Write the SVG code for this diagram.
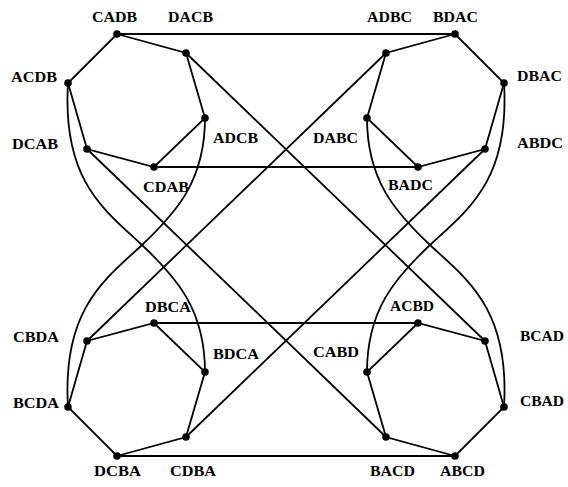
<svg xmlns="http://www.w3.org/2000/svg" width="568" height="487" viewBox="0 0 568 487">
<style>
.e{stroke:#000;stroke-width:1.8;fill:none;stroke-linecap:round}
.n circle{fill:#000}
.n text{font-family:"Liberation Serif","Times New Roman",serif;font-size:14.5px;font-weight:bold;fill:#000}
</style>
<rect width="568" height="487" fill="#fff"/>
<g id="connectors" class="e">
<path d="M117,34 L186,53 L205,118 L154,167 L87,149 L68,83 Z"/>
<path d="M455,34 L386,53 L367,118 L418,167 L485,149 L504,83 Z"/>
<path d="M117,456 L186,437 L205,372 L154,323 L87,341 L68,407 Z"/>
<path d="M455,456 L386,437 L367,372 L418,323 L485,341 L504,407 Z"/>
<path d="M117,34 H455 M154,167 H418 M154,323 H418 M117,456 H455"/>
<path d="M186,53 L485,341 M386,53 L87,341 M87,149 L386,437 M485,149 L186,437"/>
<path d="M68,83 C62,180 104,210 142,245 C177,278 205,310 205,372"/>
<path d="M205,118 C205,180 177,212 142,245 C104,280 62,310 68,407"/>
<path d="M504,83 C510,180 468,210 430,245 C395,278 367,310 367,372"/>
<path d="M367,118 C367,180 395,212 430,245 C468,280 510,310 504,407"/>
</g>
<g id="CADB" class="n"><circle cx="117" cy="34" r="3.8"/><text x="92" y="22" textLength="45" lengthAdjust="spacingAndGlyphs">CADB</text></g>
<g id="DACB" class="n"><circle cx="186" cy="53" r="3.8"/><text x="168" y="22" textLength="45" lengthAdjust="spacingAndGlyphs">DACB</text></g>
<g id="ADBC" class="n"><circle cx="386" cy="53" r="3.8"/><text x="367" y="22" textLength="45" lengthAdjust="spacingAndGlyphs">ADBC</text></g>
<g id="BDAC" class="n"><circle cx="455" cy="34" r="3.8"/><text x="433" y="22" textLength="45" lengthAdjust="spacingAndGlyphs">BDAC</text></g>
<g id="ACDB" class="n"><circle cx="68" cy="83" r="3.8"/><text x="11" y="82" textLength="46" lengthAdjust="spacingAndGlyphs">ACDB</text></g>
<g id="DBAC" class="n"><circle cx="504" cy="83" r="3.8"/><text x="517" y="81" textLength="45" lengthAdjust="spacingAndGlyphs">DBAC</text></g>
<g id="DCAB" class="n"><circle cx="87" cy="149" r="3.8"/><text x="12" y="149" textLength="46" lengthAdjust="spacingAndGlyphs">DCAB</text></g>
<g id="ABDC" class="n"><circle cx="485" cy="149" r="3.8"/><text x="517" y="148" textLength="46" lengthAdjust="spacingAndGlyphs">ABDC</text></g>
<g id="ADCB" class="n"><circle cx="205" cy="118" r="3.8"/><text x="213" y="143" textLength="45" lengthAdjust="spacingAndGlyphs">ADCB</text></g>
<g id="DABC" class="n"><circle cx="367" cy="118" r="3.8"/><text x="313" y="143" textLength="45" lengthAdjust="spacingAndGlyphs">DABC</text></g>
<g id="CDAB" class="n"><circle cx="154" cy="167" r="3.8"/><text x="143" y="192" textLength="46" lengthAdjust="spacingAndGlyphs">CDAB</text></g>
<g id="BADC" class="n"><circle cx="418" cy="167" r="3.8"/><text x="388" y="190" textLength="45" lengthAdjust="spacingAndGlyphs">BADC</text></g>
<g id="DBCA" class="n"><circle cx="154" cy="323" r="3.8"/><text x="145" y="312" textLength="46" lengthAdjust="spacingAndGlyphs">DBCA</text></g>
<g id="ACBD" class="n"><circle cx="418" cy="323" r="3.8"/><text x="390" y="311" textLength="44" lengthAdjust="spacingAndGlyphs">ACBD</text></g>
<g id="CBDA" class="n"><circle cx="87" cy="341" r="3.8"/><text x="13" y="342" textLength="46" lengthAdjust="spacingAndGlyphs">CBDA</text></g>
<g id="BCAD" class="n"><circle cx="485" cy="341" r="3.8"/><text x="520" y="341" textLength="44" lengthAdjust="spacingAndGlyphs">BCAD</text></g>
<g id="BDCA" class="n"><circle cx="205" cy="372" r="3.8"/><text x="213" y="359" textLength="46" lengthAdjust="spacingAndGlyphs">BDCA</text></g>
<g id="CABD" class="n"><circle cx="367" cy="372" r="3.8"/><text x="313" y="357" textLength="46" lengthAdjust="spacingAndGlyphs">CABD</text></g>
<g id="BCDA" class="n"><circle cx="68" cy="407" r="3.8"/><text x="13" y="408" textLength="46" lengthAdjust="spacingAndGlyphs">BCDA</text></g>
<g id="CBAD" class="n"><circle cx="504" cy="407" r="3.8"/><text x="520" y="406" textLength="44" lengthAdjust="spacingAndGlyphs">CBAD</text></g>
<g id="DCBA" class="n"><circle cx="117" cy="456" r="3.8"/><text x="94" y="476" textLength="47" lengthAdjust="spacingAndGlyphs">DCBA</text></g>
<g id="CDBA" class="n"><circle cx="186" cy="437" r="3.8"/><text x="170" y="476" textLength="46" lengthAdjust="spacingAndGlyphs">CDBA</text></g>
<g id="BACD" class="n"><circle cx="386" cy="437" r="3.8"/><text x="370" y="476" textLength="45" lengthAdjust="spacingAndGlyphs">BACD</text></g>
<g id="ABCD" class="n"><circle cx="455" cy="456" r="3.8"/><text x="440" y="476" textLength="45" lengthAdjust="spacingAndGlyphs">ABCD</text></g>
</svg>
